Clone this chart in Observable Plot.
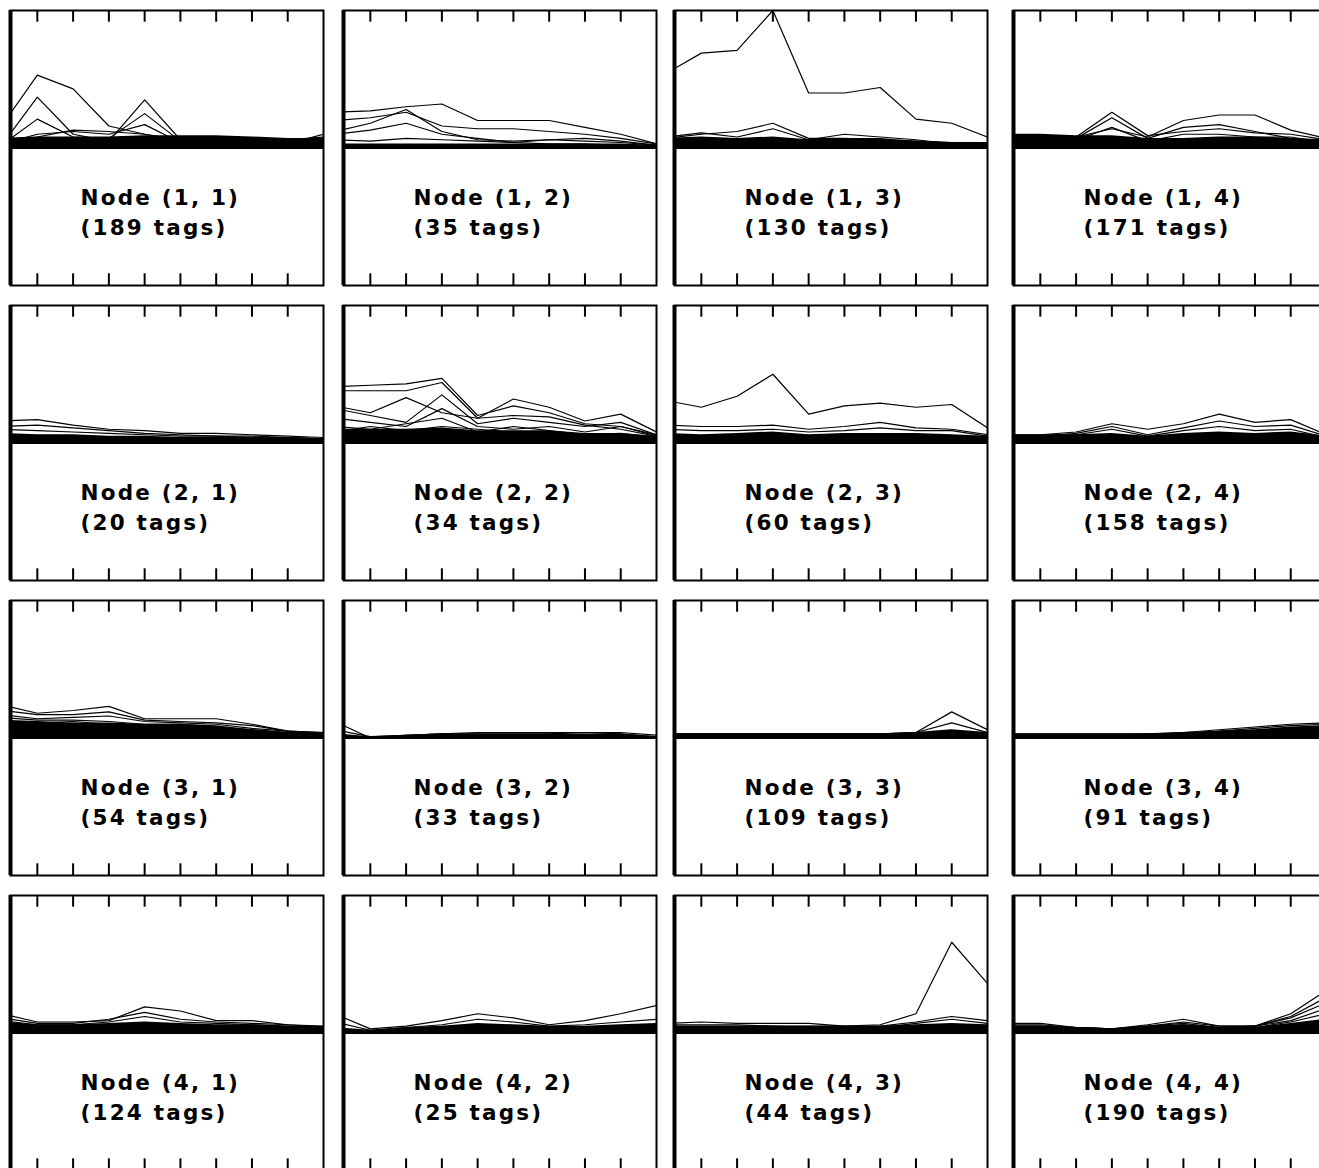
<!DOCTYPE html>
<html><head><meta charset="utf-8">
<script src="https://cdn.jsdelivr.net/npm/d3@7"></script>
<script src="https://cdn.jsdelivr.net/npm/@observablehq/plot@0.6"></script>
<style>
html,body{margin:0;padding:0;background:#fff;overflow:hidden;}
#grid{position:relative;width:1319px;height:1168px;overflow:hidden;background:#fff;}
#grid > div{position:absolute;}
#grid svg{max-width:none !important;display:block;}
</style></head><body><div id="grid"></div>
<script>
// ---- data ----
const xSteps = [0, 1, 2, 3, 4, 5, 6, 7, 8, 9];
const tickValues = [1, 2, 3, 4, 5, 6, 7, 8];
const nodeRows = [1, 2, 3, 4];
const nodeCols = [1, 2, 3, 4];
const tagCounts = [
  [189, 35, 130, 171],
  [20, 34, 60, 158],
  [54, 33, 109, 91],
  [124, 25, 44, 190]
];

const node11Lines = [
  [0.16, 0.53, 0.43, 0.16, 0.10, 0.05, 0.03, 0.03, 0.03, 0.05],
  [0.02, 0.37, 0.10, 0.05, 0.35, 0.06, 0.03, 0.03, 0.03, 0.04],
  [0.02, 0.21, 0.08, 0.07, 0.25, 0.05, 0.03, 0.03, 0.03, 0.03],
  [0.03, 0.10, 0.12, 0.10, 0.17, 0.04, 0.03, 0.03, 0.03, 0.10],
  [0.05, 0.08, 0.13, 0.12, 0.10, 0.06, 0.04, 0.04, 0.06, 0.08]
];
const node11Core = [0.07, 0.08, 0.08, 0.08, 0.09, 0.09, 0.09, 0.08, 0.07, 0.07];

const node12Lines = [
  [0.26, 0.27, 0.30, 0.32, 0.20, 0.20, 0.20, 0.15, 0.10, 0.03],
  [0.20, 0.22, 0.26, 0.16, 0.14, 0.14, 0.12, 0.10, 0.07, 0.03],
  [0.12, 0.18, 0.28, 0.12, 0.06, 0.05, 0.06, 0.05, 0.04, 0.02],
  [0.10, 0.13, 0.18, 0.10, 0.07, 0.04, 0.03, 0.03, 0.02, 0.02],
  [0.06, 0.05, 0.07, 0.06, 0.05, 0.04, 0.06, 0.07, 0.05, 0.02]
];
const node12Core = [0.03, 0.03, 0.03, 0.03, 0.03, 0.03, 0.03, 0.03, 0.03, 0.02];

const node13Lines = [
  [0.54, 0.69, 0.71, 1.00, 0.40, 0.40, 0.44, 0.21, 0.18, 0.08],
  [0.07, 0.10, 0.12, 0.18, 0.07, 0.07, 0.06, 0.05, 0.04, 0.03],
  [0.08, 0.11, 0.08, 0.14, 0.06, 0.10, 0.08, 0.06, 0.03, 0.02]
];
const node13Core = [0.07, 0.08, 0.07, 0.08, 0.06, 0.07, 0.07, 0.05, 0.04, 0.04];

const node14Lines = [
  [0.06, 0.07, 0.08, 0.14, 0.08, 0.20, 0.24, 0.24, 0.13, 0.07],
  [0.06, 0.07, 0.08, 0.26, 0.09, 0.12, 0.14, 0.11, 0.10, 0.06],
  [0.05, 0.07, 0.07, 0.22, 0.07, 0.15, 0.17, 0.12, 0.07, 0.05],
  [0.05, 0.06, 0.06, 0.15, 0.05, 0.10, 0.10, 0.08, 0.08, 0.04]
];
const node14Core = [0.10, 0.10, 0.09, 0.09, 0.07, 0.07, 0.08, 0.08, 0.07, 0.06];

const node21Lines = [
  [0.16, 0.17, 0.13, 0.10, 0.09, 0.07, 0.07, 0.06, 0.05, 0.04],
  [0.12, 0.13, 0.11, 0.09, 0.07, 0.06, 0.05, 0.05, 0.04, 0.03],
  [0.10, 0.09, 0.08, 0.07, 0.06, 0.05, 0.05, 0.04, 0.04, 0.03]
];
const node21Core = [0.07, 0.06, 0.06, 0.05, 0.05, 0.04, 0.04, 0.04, 0.04, 0.03];

const node22Lines = [
  [0.41, 0.42, 0.43, 0.47, 0.20, 0.27, 0.22, 0.14, 0.12, 0.06],
  [0.38, 0.38, 0.38, 0.44, 0.18, 0.20, 0.19, 0.13, 0.10, 0.05],
  [0.27, 0.22, 0.33, 0.22, 0.18, 0.32, 0.26, 0.16, 0.21, 0.08],
  [0.25, 0.20, 0.15, 0.35, 0.14, 0.18, 0.15, 0.12, 0.15, 0.06],
  [0.18, 0.15, 0.12, 0.25, 0.12, 0.10, 0.12, 0.08, 0.12, 0.05],
  [0.12, 0.10, 0.14, 0.18, 0.08, 0.12, 0.09, 0.06, 0.07, 0.04],
  [0.08, 0.12, 0.09, 0.12, 0.10, 0.08, 0.06, 0.05, 0.05, 0.03]
];
const node22Core = [0.10, 0.10, 0.10, 0.11, 0.09, 0.09, 0.09, 0.07, 0.07, 0.05];

const node23Lines = [
  [0.31, 0.26, 0.34, 0.50, 0.21, 0.27, 0.29, 0.26, 0.28, 0.11],
  [0.13, 0.12, 0.12, 0.13, 0.10, 0.12, 0.15, 0.11, 0.10, 0.06],
  [0.10, 0.09, 0.09, 0.10, 0.08, 0.09, 0.11, 0.09, 0.09, 0.05]
];
const node23Core = [0.07, 0.06, 0.07, 0.08, 0.06, 0.07, 0.07, 0.07, 0.06, 0.05];

const node24Lines = [
  [0.06, 0.06, 0.08, 0.14, 0.10, 0.14, 0.21, 0.15, 0.17, 0.06],
  [0.05, 0.05, 0.07, 0.12, 0.06, 0.11, 0.16, 0.12, 0.13, 0.05],
  [0.05, 0.05, 0.06, 0.10, 0.05, 0.09, 0.12, 0.09, 0.10, 0.04]
];
const node24Core = [0.06, 0.06, 0.06, 0.07, 0.05, 0.07, 0.08, 0.07, 0.08, 0.05];

const node31Lines = [
  [0.24, 0.18, 0.20, 0.23, 0.14, 0.14, 0.14, 0.10, 0.05, 0.04],
  [0.20, 0.17, 0.17, 0.19, 0.13, 0.12, 0.11, 0.09, 0.05, 0.04],
  [0.17, 0.14, 0.15, 0.16, 0.12, 0.11, 0.10, 0.07, 0.05, 0.03],
  [0.15, 0.13, 0.13, 0.12, 0.10, 0.10, 0.08, 0.06, 0.04, 0.03],
  [0.12, 0.11, 0.12, 0.10, 0.09, 0.08, 0.07, 0.05, 0.04, 0.03]
];
const node31Core = [0.13, 0.12, 0.11, 0.11, 0.10, 0.10, 0.09, 0.06, 0.04, 0.03];

const node32Lines = [
  [0.12, 0.00, 0.02, 0.03, 0.04, 0.04, 0.04, 0.04, 0.04, 0.02],
  [0.06, 0.01, 0.02, 0.03, 0.03, 0.03, 0.03, 0.04, 0.03, 0.01]
];
const node32Core = [0.03, 0.01, 0.02, 0.03, 0.03, 0.03, 0.03, 0.03, 0.03, 0.01];

const node33Lines = [
  [0.03, 0.03, 0.03, 0.03, 0.03, 0.03, 0.03, 0.04, 0.19, 0.06],
  [0.03, 0.03, 0.03, 0.03, 0.03, 0.03, 0.03, 0.04, 0.11, 0.04]
];
const node33Core = [0.03, 0.03, 0.03, 0.03, 0.03, 0.03, 0.03, 0.04, 0.06, 0.04];

const node34Lines = [
  [0.03, 0.03, 0.03, 0.03, 0.03, 0.04, 0.06, 0.08, 0.10, 0.11],
  [0.02, 0.02, 0.02, 0.02, 0.03, 0.03, 0.05, 0.07, 0.09, 0.10]
];
const node34Core = [0.03, 0.03, 0.03, 0.03, 0.03, 0.04, 0.05, 0.06, 0.08, 0.09];

const node41Lines = [
  [0.14, 0.08, 0.08, 0.09, 0.19, 0.16, 0.09, 0.09, 0.06, 0.05],
  [0.11, 0.07, 0.07, 0.10, 0.15, 0.10, 0.08, 0.07, 0.06, 0.04],
  [0.09, 0.06, 0.06, 0.08, 0.12, 0.08, 0.07, 0.06, 0.05, 0.04]
];
const node41Core = [0.08, 0.06, 0.06, 0.07, 0.08, 0.07, 0.06, 0.06, 0.05, 0.05];

const node42Lines = [
  [0.14, 0.03, 0.05, 0.09, 0.14, 0.11, 0.06, 0.09, 0.14, 0.20],
  [0.08, 0.02, 0.04, 0.06, 0.10, 0.08, 0.05, 0.06, 0.08, 0.10]
];
const node42Core = [0.04, 0.02, 0.04, 0.05, 0.07, 0.06, 0.05, 0.05, 0.06, 0.07];

const node43Lines = [
  [0.05, 0.05, 0.05, 0.05, 0.05, 0.05, 0.06, 0.14, 0.66, 0.36],
  [0.07, 0.08, 0.07, 0.07, 0.07, 0.05, 0.05, 0.08, 0.12, 0.09],
  [0.06, 0.06, 0.06, 0.05, 0.04, 0.04, 0.04, 0.07, 0.10, 0.07]
];
const node43Core = [0.05, 0.05, 0.05, 0.05, 0.05, 0.05, 0.05, 0.06, 0.07, 0.06];

const node44Lines = [
  [0.07, 0.07, 0.04, 0.03, 0.06, 0.10, 0.05, 0.05, 0.14, 0.31],
  [0.06, 0.06, 0.04, 0.03, 0.05, 0.08, 0.05, 0.05, 0.12, 0.26],
  [0.05, 0.05, 0.04, 0.03, 0.05, 0.07, 0.04, 0.05, 0.11, 0.22],
  [0.05, 0.05, 0.04, 0.03, 0.04, 0.06, 0.04, 0.05, 0.09, 0.18],
  [0.04, 0.04, 0.03, 0.03, 0.04, 0.05, 0.04, 0.04, 0.08, 0.14]
];
const node44Core = [0.05, 0.05, 0.04, 0.03, 0.05, 0.06, 0.04, 0.04, 0.07, 0.10];

const panelLines = [
  [node11Lines, node12Lines, node13Lines, node14Lines],
  [node21Lines, node22Lines, node23Lines, node24Lines],
  [node31Lines, node32Lines, node33Lines, node34Lines],
  [node41Lines, node42Lines, node43Lines, node44Lines]
];
const panelCores = [
  [node11Core, node12Core, node13Core, node14Core],
  [node21Core, node22Core, node23Core, node24Core],
  [node31Core, node32Core, node33Core, node34Core],
  [node41Core, node42Core, node43Core, node44Core]
];

// ---- layout ----
const colLeft = [10, 343, 674, 1013];
const rowTop = [10, 305, 600, 895];
const PW = 313, PH = 275, PAD = 3;
const xDomain = [0.25, 9];

const grid = document.getElementById("grid");
nodeRows.forEach((r, ri) => {
  nodeCols.forEach((c, ci) => {
    const lineRows = panelLines[ri][ci].flatMap((vals, s) =>
      vals.map((v, i) => ({x: xSteps[i], v, s})));
    const coreRows = panelCores[ri][ci].map((v, i) => ({x: xSteps[i], v}));
    const labelStyle = {text: d => d, frameAnchor: "top-left", dx: 70, textAnchor: "start",
      fontSize: 21.5, fontWeight: "bold", fill: "black"};
    const svg = Plot.plot({
      width: PW + 2 * PAD,
      height: PH + 2 * PAD,
      margin: PAD,
      style: "background:#fff;font-family:'DejaVu Sans',sans-serif;letter-spacing:2.2px;max-width:none;",
      x: {domain: xDomain, axis: null},
      y: {domain: [-1, 1], axis: null},
      marks: [
        Plot.areaY(coreRows, {x: "x", y: "v", fill: "black", clip: true}),
        Plot.lineY(lineRows, {x: "x", y: "v", z: "s", stroke: "black", strokeWidth: 1.2, clip: true}),
        Plot.ruleY([0], {stroke: "black", strokeWidth: 2}),
        Plot.ruleX(tickValues, {x: d => d, y1: 1, y2: 0.915, stroke: "black", strokeWidth: 2}),
        Plot.ruleX(tickValues, {x: d => d, y1: -1, y2: -0.915, stroke: "black", strokeWidth: 2}),
        Plot.frame({stroke: "black", strokeWidth: 2}),
        Plot.ruleX([xDomain[0]], {x: d => d, stroke: "black", strokeWidth: 4}),
        Plot.text([`Node (${r}, ${c})`], {...labelStyle, dy: 179}),
        Plot.text([`(${tagCounts[ri][ci]} tags)`], {...labelStyle, dy: 209})
      ]
    });
    const holder = document.createElement("div");
    holder.style.left = (colLeft[ci] - PAD) + "px";
    holder.style.top = (rowTop[ri] - PAD) + "px";
    holder.style.width = (PW + 2 * PAD) + "px";
    holder.style.height = (PH + 2 * PAD) + "px";
    holder.appendChild(svg);
    grid.appendChild(holder);
  });
});
</script>
</body></html>
